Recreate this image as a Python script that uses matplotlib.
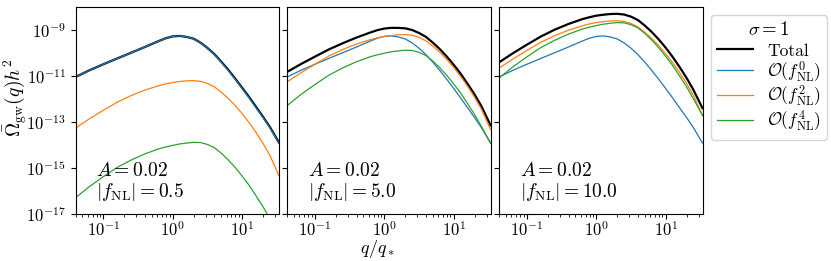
import numpy as np
import matplotlib
matplotlib.use('Agg')
import matplotlib.pyplot as plt
from matplotlib.ticker import NullLocator

plt.rcParams['font.family'] = 'serif'
plt.rcParams['font.serif'] = ['cmr10']
plt.rcParams['mathtext.fontset'] = 'cm'
plt.rcParams['axes.formatter.use_mathtext'] = True

# q / q_*
q = [0.04, 0.063, 0.1, 0.158, 0.251, 0.398, 0.631, 0.794, 1.0, 1.26, 1.58, 2.0,
     2.51, 3.16, 3.98, 5.01, 6.31, 7.94, 10.0, 12.6, 15.8, 20.0, 25.1, 34.0]

# log10 of Omega_gw h^2
# O(f_NL^0) -- same in every panel
f0 = [-11.05, -10.76, -10.50, -10.25, -10.00, -9.75, -9.49, -9.37, -9.29, -9.27, -9.31, -9.40,
      -9.57, -9.80, -10.08, -10.41, -10.77, -11.15, -11.55, -11.96, -12.38, -12.81, -13.25, -13.92]

# |f_NL| = 0.5
tot_1 = [-11.05, -10.76, -10.50, -10.25, -10.00, -9.75, -9.49, -9.37, -9.29, -9.27, -9.31, -9.39,
         -9.56, -9.79, -10.06, -10.39, -10.74, -11.12, -11.52, -11.92, -12.34, -12.78, -13.22, -13.90]
f2_1 = [-13.26, -12.87, -12.50, -12.15, -11.86, -11.62, -11.43, -11.35, -11.29, -11.25, -11.22, -11.21,
        -11.24, -11.33, -11.48, -11.71, -11.98, -12.29, -12.64, -13.03, -13.45, -13.93, -14.45, -15.33]
f4_1 = [-16.29, -15.81, -15.38, -14.98, -14.66, -14.39, -14.17, -14.09, -14.02, -13.96, -13.92, -13.89,
        -13.90, -13.98, -14.12, -14.36, -14.65, -14.98, -15.35, -15.75, -16.20, -16.68, -17.20, -17.92]

# |f_NL| = 5.0
tot_2 = [-10.83, -10.49, -10.17, -9.86, -9.59, -9.34, -9.12, -9.02, -8.95, -8.92, -8.92, -8.94,
         -9.01, -9.14, -9.31, -9.56, -9.84, -10.16, -10.52, -10.91, -11.34, -11.81, -12.32, -13.15]
f2_2 = [-11.26, -10.87, -10.50, -10.15, -9.86, -9.62, -9.43, -9.35, -9.29, -9.25, -9.22, -9.21,
        -9.24, -9.33, -9.48, -9.71, -9.98, -10.29, -10.64, -11.03, -11.45, -11.93, -12.45, -13.33]
f4_2 = [-12.29, -11.81, -11.38, -10.98, -10.66, -10.39, -10.17, -10.09, -10.02, -9.96, -9.92, -9.89,
        -9.90, -9.98, -10.12, -10.36, -10.65, -10.98, -11.35, -11.75, -12.20, -12.68, -13.20, -13.92]

# |f_NL| = 10.0
tot_3 = [-10.41, -10.02, -9.65, -9.30, -9.00, -8.75, -8.54, -8.46, -8.39, -8.35, -8.32, -8.31,
         -8.34, -8.43, -8.58, -8.82, -9.10, -9.42, -9.78, -10.18, -10.61, -11.09, -11.61, -12.41]
f2_3 = [-10.66, -10.27, -9.90, -9.55, -9.26, -9.02, -8.83, -8.75, -8.69, -8.65, -8.62, -8.61,
        -8.64, -8.73, -8.88, -9.11, -9.38, -9.69, -10.04, -10.43, -10.85, -11.33, -11.85, -12.73]
f4_3 = [-11.09, -10.61, -10.18, -9.78, -9.46, -9.19, -8.97, -8.89, -8.82, -8.76, -8.72, -8.69,
        -8.70, -8.78, -8.92, -9.16, -9.45, -9.78, -10.15, -10.55, -11.00, -11.48, -12.00, -12.72]

fnl_labels = ['0.5', '5.0', '10.0']
panels = [(tot_1, f2_1, f4_1), (tot_2, f2_2, f4_2), (tot_3, f2_3, f4_3)]

fig = plt.figure(figsize=(8.31, 2.61), dpi=100)
lefts = [0.0911, 0.3457, 0.6008]
axes = [fig.add_axes([l, 0.1801, 0.2446, 0.7943]) for l in lefts]

for i, ax in enumerate(axes):
    tot, f2, f4 = panels[i]
    ax.loglog(q, 10**np.array(tot), color='k', lw=1.6, label='Total')
    ax.loglog(q, 10**np.array(f0), color='C0', lw=0.9, label=r'$\mathcal{O}(f_{\rm NL}^0)$')
    ax.loglog(q, 10**np.array(f2), color='C1', lw=0.9, label=r'$\mathcal{O}(f_{\rm NL}^2)$')
    ax.loglog(q, 10**np.array(f4), color='C2', lw=0.9, label=r'$\mathcal{O}(f_{\rm NL}^4)$')

    ax.set_xlim(0.04, 34)
    ax.set_ylim(1e-17, 1e-8)
    ax.set_yticks([1e-17, 1e-15, 1e-13, 1e-11, 1e-9])
    ax.yaxis.set_minor_locator(NullLocator())
    ax.tick_params(labelsize=12)
    ax.tick_params(axis='x', pad=1)
    if i > 0:
        ax.tick_params(labelleft=False)

    ax.text(0.1, 0.055, '$A=0.02$\n$|f_{\\rm NL}|=' + fnl_labels[i] + '$',
            transform=ax.transAxes, fontsize=14, va='bottom', ha='left', linespacing=1.05)

axes[0].set_ylabel(r'$\bar{\Omega}_{\rm gw}(q)h^2$', fontsize=14)
axes[0].yaxis.set_label_coords(-0.228, 0.56)
# x label sits under the middle panel, pinned to the bottom edge of the figure
fig.text(0.454, 0.004, r'$q/q_*$', fontsize=13, ha='center', va='bottom')

leg = axes[2].legend(loc='upper left', bbox_to_anchor=(1.04, 0.96), borderaxespad=0,
                     title=r'$\sigma=1$', fontsize=12.5, title_fontsize=13.5,
                     labelspacing=0.0, borderpad=0.35, handlelength=2.1)
leg._legend_box.sep = 3

plt.savefig('out.png', dpi=100)
